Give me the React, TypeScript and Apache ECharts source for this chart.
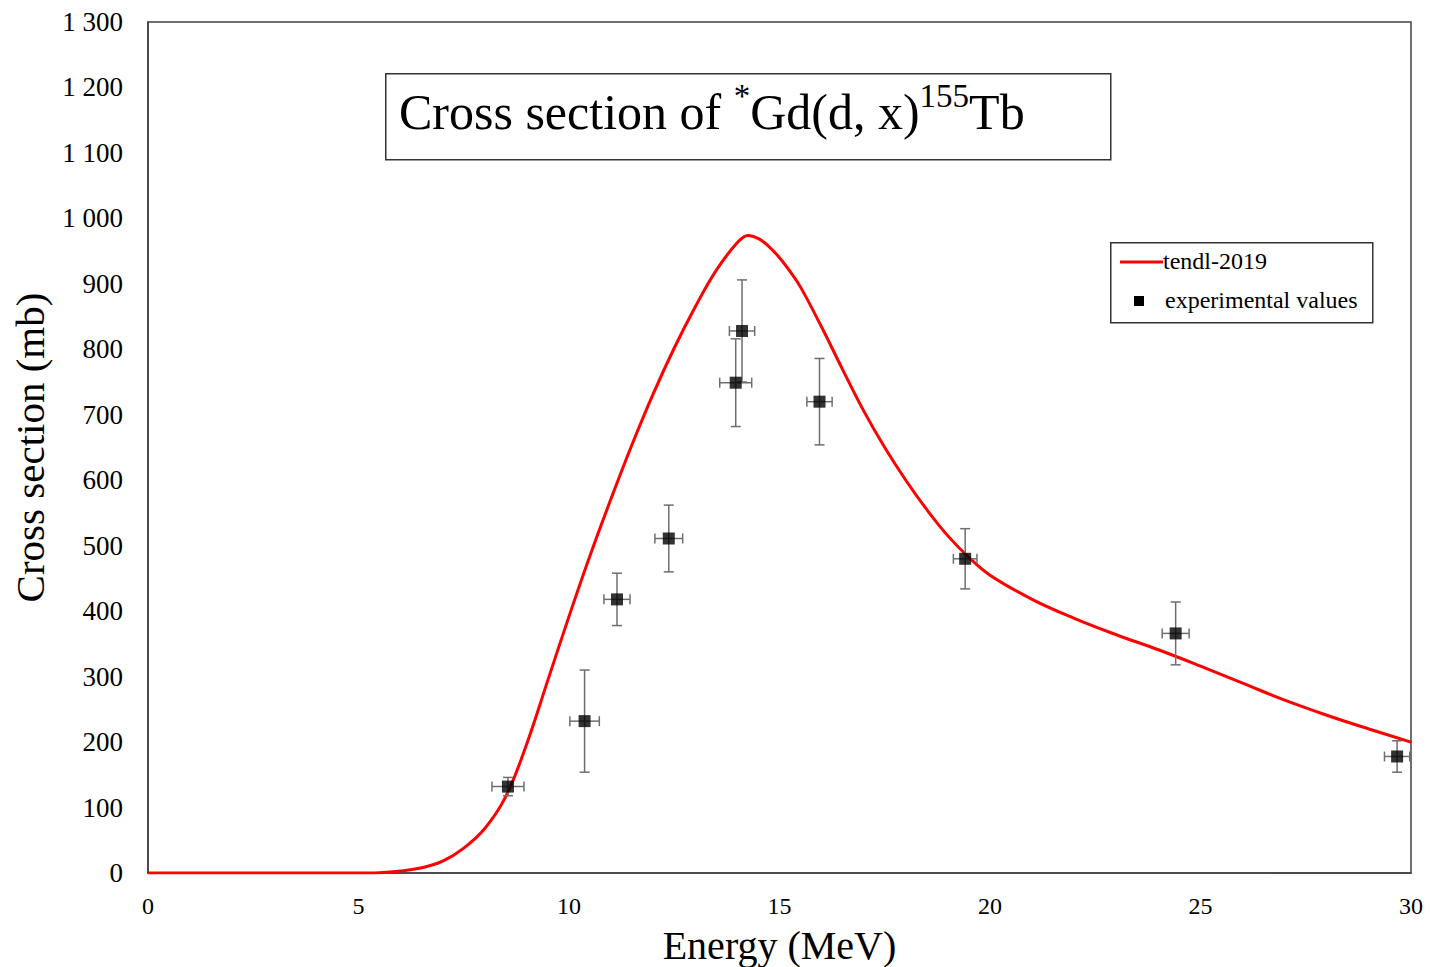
import React, { useEffect, useRef } from "react";
import * as echarts from "echarts";

// TENDL-2019 curve (Energy MeV, cross section mb)
const curveEnergy = [0, 5, 5.5, 6, 6.5, 7, 7.5, 8, 8.5, 9, 9.5, 10, 10.5, 11, 11.5, 12, 12.5, 13, 13.5, 14, 14.25, 14.5, 14.75, 15, 15.25, 15.5, 16, 16.5, 17, 17.5, 18, 18.5, 19, 19.5, 20, 21, 22, 23, 24, 25, 26, 27, 28, 29, 30];
const curveSigma = [0, 0, 0.5, 3, 8, 18, 38, 68, 117, 198, 295, 392, 485, 572, 655, 732, 802, 865, 921, 963, 974, 969, 957, 940, 919, 895, 834, 769, 706, 650, 600, 555, 515, 482, 455, 418, 389, 364, 341, 316, 290, 264, 241, 220, 200];

// Experimental values
const expEnergy = [8.55, 10.37, 11.14, 12.37, 13.96, 14.11, 15.95, 19.41, 24.41, 29.67];
const expSigma = [132, 232, 418, 511, 749, 828, 720, 480, 366, 178];
const expEnergyErr = [0.38, 0.35, 0.31, 0.33, 0.38, 0.3, 0.3, 0.28, 0.32, 0.3];
const expSigmaErr = [14, 78, 40, 51, 67, 78, 66, 46, 48, 24];

const xTicks = { min: 0, max: 30, interval: 5 };
const yTicks = { min: 0, max: 1300, interval: 100 };

const FONT = "'Liberation Serif', 'Times New Roman', serif";

function fmtThousands(v: number): string {
  if (v >= 1000) {
    const th = Math.floor(v / 1000);
    const rest = String(v % 1000).padStart(3, "0");
    return th + " " + rest;
  }
  return String(v);
}

export default function App() {
  const ref = useRef<HTMLDivElement>(null);

  useEffect(() => {
    if (!ref.current) return;
    const chart = echarts.init(ref.current, null, { renderer: "svg" });

    const curveData = curveEnergy.map((e, i) => [e, curveSigma[i]]);
    const expData = expEnergy.map((e, i) => [e, expSigma[i]]);
    const errData = expEnergy.map((e, i) => [e, expSigma[i], expEnergyErr[i], expSigmaErr[i]]);

    const errColor = "#6e6e6e";
    const cap = 5;

    chart.setOption({
      animation: false,
      backgroundColor: "#ffffff",
      grid: {
        left: 148,
        top: 22,
        right: 21,
        bottom: 94,
        outerBoundsMode: "none",
        containLabel: false,
        show: true,
        borderColor: "#404040",
        borderWidth: 1.5,
        backgroundColor: "transparent",
      },
      xAxis: {
        type: "value",
        min: xTicks.min,
        max: xTicks.max,
        interval: xTicks.interval,
        name: "Energy (MeV)",
        nameLocation: "middle",
        nameGap: 52,
        nameTextStyle: { fontFamily: FONT, fontSize: 40, color: "#000" },
        axisLine: { show: true, onZero: false, lineStyle: { color: "#404040", width: 1.5 } },
        axisTick: { show: false },
        splitLine: { show: false },
        axisLabel: { fontFamily: FONT, fontSize: 24, color: "#000", margin: 21 },
      },
      yAxis: {
        type: "value",
        min: yTicks.min,
        max: yTicks.max,
        interval: yTicks.interval,
        name: "Cross section (mb)",
        nameLocation: "middle",
        nameGap: 98,
        nameTextStyle: { fontFamily: FONT, fontSize: 41, color: "#000" },
        axisLine: { show: true, lineStyle: { color: "#404040", width: 1.5 } },
        axisTick: { show: false },
        splitLine: { show: false },
        axisLabel: {
          fontFamily: FONT,
          fontSize: 27,
          color: "#000",
          margin: 25,
          formatter: (v: number) => fmtThousands(v),
        },
      },
      series: [
        {
          name: "tendl-2019",
          type: "line",
          data: curveData,
          smooth: 0.4,
          showSymbol: false,
          symbol: "none",
          lineStyle: { color: "#ff0000", width: 3 },
          z: 2,
        },
        {
          name: "errors",
          type: "custom",
          data: errData,
          z: 3,
          renderItem: (params: any, api: any) => {
            const x = api.value(0);
            const y = api.value(1);
            const dx = api.value(2);
            const dy = api.value(3);
            const top = api.coord([x, y + dy]);
            const bot = api.coord([x, y - dy]);
            const left = api.coord([x - dx, y]);
            const right = api.coord([x + dx, y]);
            const style = { stroke: errColor, lineWidth: 1.5 };
            return {
              type: "group",
              children: [
                { type: "line", shape: { x1: top[0], y1: top[1], x2: bot[0], y2: bot[1] }, style },
                { type: "line", shape: { x1: top[0] - cap, y1: top[1], x2: top[0] + cap, y2: top[1] }, style },
                { type: "line", shape: { x1: bot[0] - cap, y1: bot[1], x2: bot[0] + cap, y2: bot[1] }, style },
                { type: "line", shape: { x1: left[0], y1: left[1], x2: right[0], y2: right[1] }, style },
                { type: "line", shape: { x1: left[0], y1: left[1] - cap, x2: left[0], y2: left[1] + cap }, style },
                { type: "line", shape: { x1: right[0], y1: right[1] - cap, x2: right[0], y2: right[1] + cap }, style },
              ],
            };
          },
        },
        {
          name: "experimental values",
          type: "scatter",
          data: expData,
          symbol: "rect",
          symbolSize: 12,
          itemStyle: { color: "#000000" },
          z: 4,
        },
      ],
      graphic: [
        {
          type: "rect",
          left: 385,
          top: 73,
          shape: { width: 725, height: 86 },
          style: { fill: "#ffffff", stroke: "#333333", lineWidth: 1.5 },
          z: 10,
        },
        {
          type: "text",
          left: 399,
          top: 79,
          z: 11,
          style: {
            text: "{a|Cross section of }{s|*}{a|Gd(d, x)}{s|155}{a|Tb}",
            rich: {
              a: { fontFamily: FONT, fontSize: 50, color: "#000", lineHeight: 58, verticalAlign: "bottom" },
              s: { fontFamily: FONT, fontSize: 33, color: "#000", lineHeight: 38, verticalAlign: "top" },
            },
          },
        },
        {
          type: "rect",
          left: 1110,
          top: 242,
          shape: { width: 262, height: 80 },
          style: { fill: "#ffffff", stroke: "#333333", lineWidth: 1.5 },
          z: 10,
        },
        {
          type: "line",
          shape: { x1: 1120, y1: 262, x2: 1163, y2: 262 },
          style: { stroke: "#ff0000", lineWidth: 3 },
          z: 11,
        },
        {
          type: "text",
          left: 1163,
          top: 249,
          z: 11,
          style: { text: "tendl-2019", fontFamily: FONT, fontSize: 24, fill: "#000" },
        },
        {
          type: "rect",
          left: 1134,
          top: 296,
          shape: { width: 10, height: 10 },
          style: { fill: "#000000" },
          z: 11,
        },
        {
          type: "text",
          left: 1165,
          top: 288,
          z: 11,
          style: { text: "experimental values", fontFamily: FONT, fontSize: 24, fill: "#000" },
        },
      ],
    });

    return () => {
      chart.dispose();
    };
  }, []);

  return (
    <div
      ref={ref}
      style={{ position: "absolute", left: 0, top: 0, width: 1432, height: 967, background: "#fff" }}
    />
  );
}
